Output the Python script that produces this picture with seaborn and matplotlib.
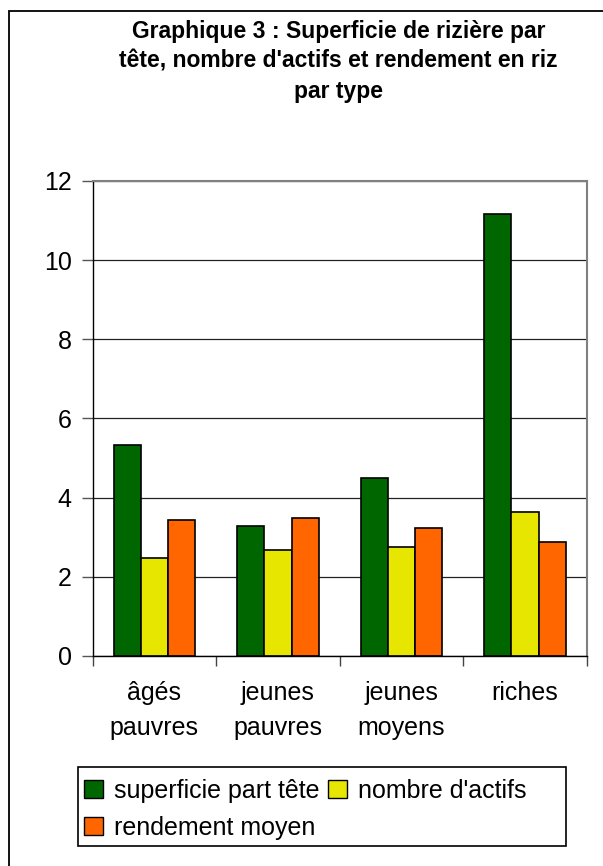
import pandas as pd
import matplotlib.pyplot as plt
import seaborn as sns
from matplotlib.patches import Rectangle

types = ["âgés\npauvres", "jeunes\npauvres", "jeunes\nmoyens", "riches"]
series = ["superficie part tête", "nombre d'actifs", "rendement moyen"]
superficie = [5.33, 3.28, 4.49, 11.17]
actifs = [2.47, 2.67, 2.75, 3.65]
rendement = [3.44, 3.48, 3.23, 2.87]
colors = ["#006600", "#e6e600", "#ff6600"]

df = pd.DataFrame({
    "type": types * 3,
    "serie": [series[0]] * 4 + [series[1]] * 4 + [series[2]] * 4,
    "valeur": superficie + actifs + rendement,
})

sns.set_style("white")
plt.rcParams["font.family"] = ["Liberation Sans", "DejaVu Sans"]
plt.rcParams["text.color"] = "black"
plt.rcParams["xtick.labelcolor"] = "black"
plt.rcParams["ytick.labelcolor"] = "black"

fig = plt.figure(figsize=(6.03, 8.66), dpi=100)
ax = fig.add_axes([0.1537, 0.2425, 0.973 - 0.1537, 0.791 - 0.2425])

sns.barplot(data=df, x="type", y="valeur", hue="serie", palette=colors,
            width=0.66, gap=0, edgecolor="black", linewidth=1.2,
            saturation=1, ax=ax, legend=False)

ax.set_ylim(0, 12)
ax.set_xlim(-0.5, 3.5)
ax.set_yticks(range(0, 13, 2))
ax.yaxis.grid(True, color="#222222", linewidth=0.9)
ax.set_axisbelow(True)
ax.set_xlabel("")
ax.set_ylabel("")

ax.tick_params(axis="y", direction="out", length=8, width=1, pad=7,
               labelsize=18, left=True, color="#555555")
ax.tick_params(axis="x", which="major", length=0, pad=18, labelsize=18)
ax.set_xticks([-0.5, 0.5, 1.5, 2.5, 3.5], minor=True)
ax.tick_params(axis="x", which="minor", direction="out", length=7,
               width=1, bottom=True, color="#444444")
for lab in ax.get_xticklabels():
    lab.set_linespacing(1.6)
    lab.set_verticalalignment("top")

for s in ["top", "right"]:
    ax.spines[s].set_color("#808080")
    ax.spines[s].set_linewidth(1.5)
for s in ["left", "bottom"]:
    ax.spines[s].set_color("black")
    ax.spines[s].set_linewidth(1)

fig.text(0.561, 1 - 20 / 866, "Graphique 3 : Superficie de rizière par\n"
         "tête, nombre d'actifs et rendement en riz\npar type",
         ha="center", va="top", fontsize=16.5, fontweight="bold",
         linespacing=1.38)

# legend frame drawn separately, entries in row order
fig.patches.append(Rectangle((78 / 603, 1 - 846 / 866), (566 - 78) / 603,
                             (846 - 767) / 866, fill=False, edgecolor="black",
                             linewidth=1.2, transform=fig.transFigure))
handles = [Rectangle((0, 0), 1, 1, facecolor=c, edgecolor="black", linewidth=1)
           for c in colors]
order = [0, 2, 1]
leg = fig.legend([handles[i] for i in order], [series[i] for i in order],
                 ncol=2, loc="upper left",
                 bbox_to_anchor=(84 / 603, 1 - 779 / 866),
                 fontsize=18, frameon=False,
                 handlelength=0.75, handleheight=0.75, handletextpad=0.45,
                 columnspacing=0.35, labelspacing=0.5, borderpad=0,
                 borderaxespad=0)

fig.patches.append(Rectangle((9 / 603, -0.1), 1.5, 1.1 - 11 / 866, fill=False,
                             edgecolor="black", linewidth=1.3,
                             transform=fig.transFigure))

fig.savefig("out.png", dpi=100, facecolor="white")
